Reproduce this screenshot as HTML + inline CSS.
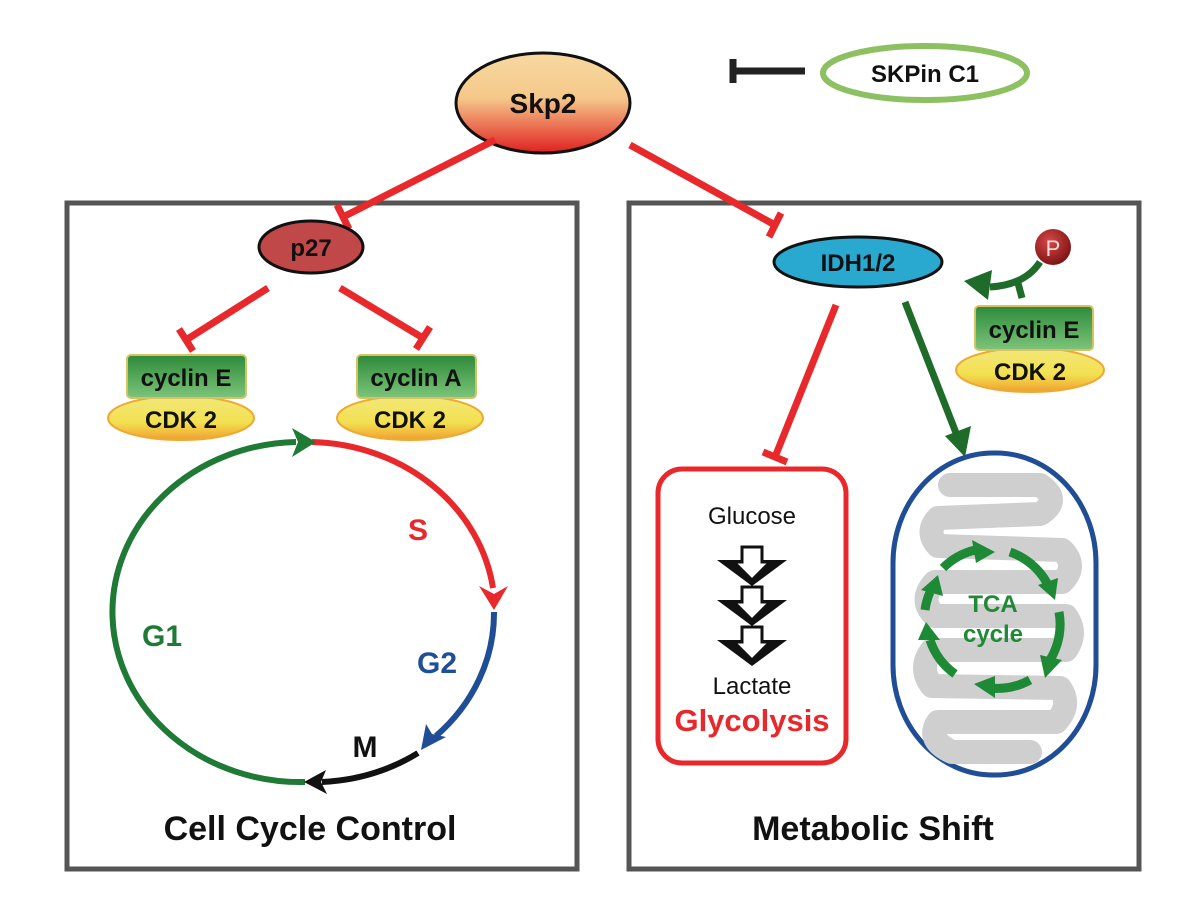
<!DOCTYPE html>
<html><head><meta charset="utf-8"><style>body{margin:0;background:#fff}svg{display:block}text{font-family:"Liberation Sans",Arial,sans-serif;font-weight:bold}text.n{font-weight:normal}</style></head><body>
<svg width="1187" height="900" viewBox="0 0 1187 900" xmlns="http://www.w3.org/2000/svg">
<defs>
<linearGradient id="sk" x1="0" y1="0" x2="0" y2="1"><stop offset="0" stop-color="#f7d9a0"/><stop offset="0.45" stop-color="#f5c88a"/><stop offset="1" stop-color="#e02020"/></linearGradient>
<linearGradient id="cy" x1="0" y1="0" x2="0" y2="1"><stop offset="0" stop-color="#2e8a3a"/><stop offset="1" stop-color="#7cc47a"/></linearGradient>
<linearGradient id="cd" x1="0" y1="0" x2="0" y2="1"><stop offset="0" stop-color="#f2e87a"/><stop offset="0.6" stop-color="#f3e050"/><stop offset="1" stop-color="#f0a030"/></linearGradient>
<radialGradient id="pg" cx="0.4" cy="0.35" r="0.7"><stop offset="0" stop-color="#d84848"/><stop offset="1" stop-color="#7a1010"/></radialGradient>
</defs>
<rect x="67" y="203" width="510" height="666" fill="none" stroke="#555" stroke-width="5"/>
<rect x="629" y="203" width="510" height="666" fill="none" stroke="#555" stroke-width="5"/>
<ellipse cx="543" cy="103" rx="87" ry="50" fill="url(#sk)" stroke="#111" stroke-width="3"/>
<text x="543" y="113" font-size="28" text-anchor="middle" fill="#111">Skp2</text>
<ellipse cx="925" cy="73" rx="102" ry="27" fill="#fff" stroke="#8dc060" stroke-width="6"/>
<text x="925" y="82" font-size="24" text-anchor="middle" fill="#111">SKPin C1</text>
<g stroke="#222" stroke-width="7"><line x1="805" y1="71" x2="733" y2="71"/><line x1="733" y1="59" x2="733" y2="83"/></g>
<g stroke="#e8282a" stroke-width="7" fill="none">
<line x1="495" y1="140" x2="343" y2="217"/><line x1="337" y1="205" x2="349" y2="229"/>
<line x1="630" y1="145" x2="775" y2="225"/><line x1="781" y1="213" x2="769" y2="237"/>
<line x1="268" y1="288" x2="186" y2="340"/><line x1="179" y1="329" x2="193" y2="351"/>
<line x1="340" y1="288" x2="423" y2="338"/><line x1="430" y1="327" x2="416" y2="349"/>
<line x1="836" y1="305" x2="775" y2="457"/><line x1="763" y1="452" x2="787" y2="462"/>
</g>
<ellipse cx="311" cy="247" rx="52" ry="26" fill="#c04848" stroke="#111" stroke-width="3"/>
<text x="311" y="256" font-size="24" text-anchor="middle" fill="#111">p27</text>
<g>
<ellipse cx="181" cy="418" rx="73" ry="22" fill="url(#cd)" stroke="#f0a830" stroke-width="2"/>
<rect x="127" y="355" width="119" height="43" rx="4" fill="url(#cy)" stroke="#d9c060" stroke-width="2"/>
<text x="186" y="386" font-size="24" text-anchor="middle" fill="#111">cyclin E</text>
<text x="181" y="428" font-size="24" text-anchor="middle" fill="#111">CDK 2</text>
<ellipse cx="410" cy="418" rx="73" ry="22" fill="url(#cd)" stroke="#f0a830" stroke-width="2"/>
<rect x="357" y="355" width="119" height="43" rx="4" fill="url(#cy)" stroke="#d9c060" stroke-width="2"/>
<text x="416" y="386" font-size="24" text-anchor="middle" fill="#111">cyclin A</text>
<text x="410" y="428" font-size="24" text-anchor="middle" fill="#111">CDK 2</text>
<ellipse cx="1030" cy="370" rx="74" ry="22" fill="url(#cd)" stroke="#f0a830" stroke-width="2"/>
<rect x="975" y="306" width="118" height="44" rx="4" fill="url(#cy)" stroke="#d9c060" stroke-width="2"/>
<text x="1034" y="338" font-size="24" text-anchor="middle" fill="#111">cyclin E</text>
<text x="1030" y="380" font-size="24" text-anchor="middle" fill="#111">CDK 2</text>
</g>
<g fill="none" stroke-width="6">
<path d="M305,782 A188,170 0 0 1 296,442" stroke="#1e7a35"/>
<path d="M312,442 A188,170 0 0 1 493,588" stroke="#e8282a"/>
<path d="M494,612 A188,170 0 0 1 436,736" stroke="#1f4e96"/>
<path d="M418,753 A188,170 0 0 1 322,782" stroke="#111"/>
</g>
<polygon points="316,442 292,428 298,442 292,457" fill="#1e7a35"/>
<polygon points="494,610 479,586 494,594 508,586" fill="#e8282a"/>
<polygon points="421,750 426,724 432,734 446,737" fill="#1f4e96"/>
<polygon points="304,782 326,770 321,782 327,794" fill="#111"/>
<text x="418" y="540" font-size="30" text-anchor="middle" fill="#e8282a">S</text>
<text x="162" y="646" font-size="30" text-anchor="middle" fill="#1e7a35">G1</text>
<text x="437" y="673" font-size="30" text-anchor="middle" fill="#1f4e96">G2</text>
<text x="365" y="757" font-size="30" text-anchor="middle" fill="#111">M</text>
<text x="310" y="840" font-size="34" text-anchor="middle" fill="#111">Cell Cycle Control</text>
<text x="873" y="840" font-size="34" text-anchor="middle" fill="#111">Metabolic Shift</text>
<ellipse cx="858" cy="262" rx="84" ry="25" fill="#29a8d0" stroke="#111" stroke-width="3"/>
<text x="858" y="271" font-size="24" text-anchor="middle" fill="#111">IDH1/2</text>
<circle cx="1053" cy="247" r="18" fill="url(#pg)"/>
<text class="n" x="1053" y="256" font-size="22" text-anchor="middle" fill="#f6dede">P</text>
<path d="M1040,262 Q1025,285 990,287" fill="none" stroke="#1e6b2a" stroke-width="7"/>
<polygon points="964,281 992,270 988,300" fill="#1e6b2a"/>
<line x1="1018" y1="283" x2="1022" y2="298" stroke="#1e6b2a" stroke-width="7"/>
<line x1="905" y1="302" x2="958" y2="438" stroke="#1e6b2a" stroke-width="7"/>
<polygon points="965,457 945,436 971,426" fill="#1e6b2a"/>
<rect x="658" y="469" width="188" height="294" rx="24" fill="#fff" stroke="#e8282a" stroke-width="5"/>
<text class="n" x="752" y="524" font-size="24" text-anchor="middle" fill="#111">Glucose</text>
<g>
<polygon points="717,560 787,560 752,586" fill="#111"/>
<polygon points="717,600 787,600 752,626" fill="#111"/>
<polygon points="717,640 787,640 752,666" fill="#111"/>
<g fill="#fff" stroke="#111" stroke-width="3">
<polygon points="742,547 762,547 762,562 770,562 752,580 734,562 742,562"/>
<polygon points="742,587 762,587 762,602 770,602 752,620 734,602 742,602"/>
<polygon points="742,627 762,627 762,642 770,642 752,660 734,642 742,642"/>
</g></g>
<text class="n" x="752" y="694" font-size="24" text-anchor="middle" fill="#111">Lactate</text>
<text x="752" y="731" font-size="31" text-anchor="middle" fill="#e8282a">Glycolysis</text>
<rect x="893" y="453" width="203" height="322" rx="100" ry="110" fill="#fff" stroke="#1f4e96" stroke-width="5"/>
<g fill="none" stroke="#cfcfcf" stroke-width="24" stroke-linecap="round" stroke-linejoin="round">
<path d="M950,485 L1040,485 Q1062,500 1040,514 L938,518 Q925,532 938,546 L1062,550 Q1078,566 1062,582 L935,582 Q918,600 935,616 L1066,616 Q1078,633 1066,650 L932,650 Q918,668 932,686 L1060,688 Q1072,705 1056,722 L938,722 Q926,740 952,752 L1030,752"/>
</g>
<g fill="none" stroke="#1e8a35" stroke-width="9">
<path d="M943,568 A68,68 0 0 1 975,550"/>
<path d="M1010,552 A68,68 0 0 1 1047,583"/>
<path d="M1059,612 A68,68 0 0 1 1050,660"/>
<path d="M1030,680 A68,68 0 0 1 990,688"/>
<path d="M955,674 A68,68 0 0 1 930,640"/>
<path d="M925,610 A68,68 0 0 1 930,592"/>
</g>
<g fill="#1e8a35">
<polygon points="995,552 972,540 976,563"/>
<polygon points="1055,600 1038,585 1058,578"/>
<polygon points="1045,678 1040,655 1062,660"/>
<polygon points="974,684 995,676 995,698"/>
<polygon points="926,622 918,640 940,640"/>
<polygon points="938,575 921,590 943,596"/>
</g>
<text x="993" y="612" font-size="24" text-anchor="middle" fill="#1e8a35">TCA</text>
<text x="993" y="642" font-size="24" text-anchor="middle" fill="#1e8a35">cycle</text>
</svg>
</body></html>
